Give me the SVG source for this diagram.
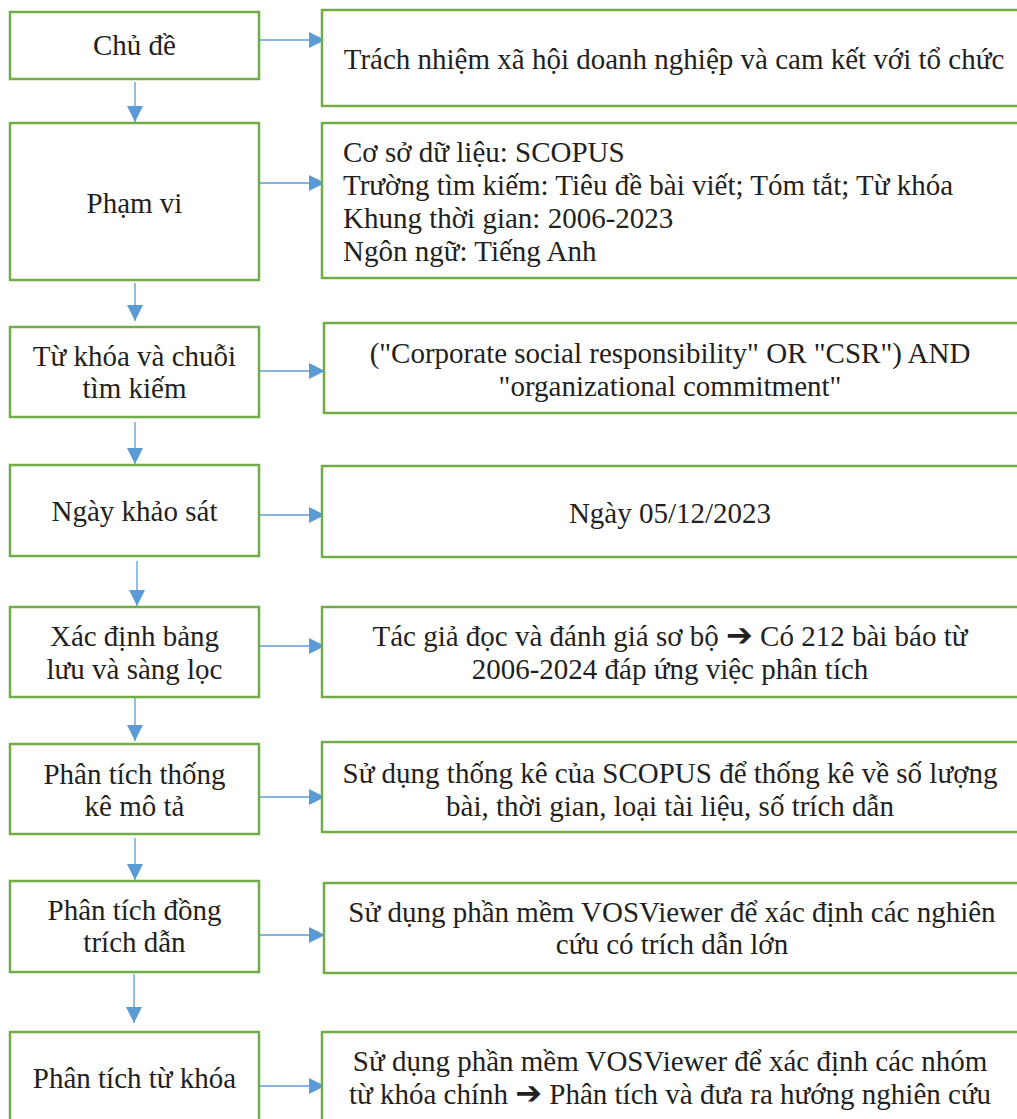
<svg xmlns="http://www.w3.org/2000/svg" width="1017" height="1119" viewBox="0 0 1017 1119">
<style>
.box{fill:#fff;stroke:#70ad47;stroke-width:2.5}
.t{font-family:"Liberation Serif","Times New Roman",serif;font-size:29px;fill:#231f20}
.c{text-anchor:middle}
.ar{font-family:"DejaVu Sans",sans-serif;font-size:32px}
.arr{stroke:#5b9bd5;stroke-width:1.3;fill:none;marker-end:url(#ah)}
</style>
<defs>
<marker id="ah" markerUnits="userSpaceOnUse" markerWidth="16" markerHeight="16" viewBox="0 0 14 14" refX="14" refY="7" orient="auto">
<path d="M0,0 L14,7 L0,14 Z" fill="#5b9bd5"/>
</marker>
</defs>
<rect width="1017" height="1119" fill="#fff"/>
<g id="connectors">
<line class="arr" x1="260" y1="40" x2="325" y2="40"/>
<line class="arr" x1="260" y1="183" x2="325" y2="183"/>
<line class="arr" x1="260" y1="371" x2="325" y2="371"/>
<line class="arr" x1="260" y1="515" x2="325" y2="515"/>
<line class="arr" x1="260" y1="646" x2="325" y2="646"/>
<line class="arr" x1="260" y1="797" x2="325" y2="797"/>
<line class="arr" x1="260" y1="935" x2="325" y2="935"/>
<line class="arr" x1="260" y1="1086" x2="325" y2="1086"/>
<line class="arr" x1="135" y1="82" x2="135" y2="122"/>
<line class="arr" x1="135" y1="283" x2="135" y2="321"/>
<line class="arr" x1="135" y1="422" x2="135" y2="464"/>
<line class="arr" x1="137" y1="561" x2="137" y2="606"/>
<line class="arr" x1="135" y1="698" x2="135" y2="741"/>
<line class="arr" x1="135" y1="838" x2="135" y2="880"/>
<line class="arr" x1="134" y1="974" x2="134" y2="1023"/>
</g>
<g id="n1"><rect class="box" x="10" y="12" width="249" height="67"/><text class="t c" x="134.5" y="55">Chủ đề</text></g>
<g id="n1r"><rect class="box" x="322" y="10" width="720" height="96"/><text class="t c" x="674" y="69">Trách nhiệm xã hội doanh nghiệp và cam kết với tổ chức</text></g>
<g id="n2"><rect class="box" x="10" y="123" width="249" height="157"/><text class="t c" x="134.5" y="213">Phạm vi</text></g>
<g id="n2r"><rect class="box" x="322" y="123" width="720" height="155"/>
<text class="t" x="343" y="162">Cơ sở dữ liệu: SCOPUS</text>
<text class="t" x="343" y="195">Trường tìm kiếm: Tiêu đề bài viết; Tóm tắt; Từ khóa</text>
<text class="t" x="343" y="228">Khung thời gian: 2006-2023</text>
<text class="t" x="343" y="261">Ngôn ngữ: Tiếng Anh</text></g>
<g id="n3"><rect class="box" x="10" y="327" width="249" height="90"/><text class="t c" x="134.5" y="366">Từ khóa và chuỗi</text><text class="t c" x="134.5" y="398">tìm kiếm</text></g>
<g id="n3r"><rect class="box" x="324" y="323" width="720" height="90"/><text class="t c" x="670" y="363">("Corporate social responsibility" OR "CSR") AND</text><text class="t c" x="670" y="396">"organizational commitment"</text></g>
<g id="n4"><rect class="box" x="10" y="465" width="249" height="91"/><text class="t c" x="134.5" y="521">Ngày khảo sát</text></g>
<g id="n4r"><rect class="box" x="322" y="466" width="720" height="91"/><text class="t c" x="670" y="523">Ngày 05/12/2023</text></g>
<g id="n5"><rect class="box" x="10" y="607" width="249" height="90"/><text class="t c" x="134.5" y="646">Xác định bảng</text><text class="t c" x="134.5" y="679">lưu và sàng lọc</text></g>
<g id="n5r"><rect class="box" x="322" y="607" width="720" height="90"/><text class="t c" x="670" y="646">Tác giả đọc và đánh giá sơ bộ <tspan class="ar">➔</tspan> Có 212 bài báo từ</text><text class="t c" x="670" y="679">2006-2024 đáp ứng việc phân tích</text></g>
<g id="n6"><rect class="box" x="10" y="744" width="249" height="90"/><text class="t c" x="134.5" y="784">Phân tích thống</text><text class="t c" x="134.5" y="816">kê mô tả</text></g>
<g id="n6r"><rect class="box" x="322" y="742" width="720" height="90"/><text class="t c" x="670" y="783">Sử dụng thống kê của SCOPUS để thống kê về số lượng</text><text class="t c" x="670" y="816">bài, thời gian, loại tài liệu, số trích dẫn</text></g>
<g id="n7"><rect class="box" x="10" y="881" width="249" height="91"/><text class="t c" x="134.5" y="920">Phân tích đồng</text><text class="t c" x="134.5" y="952">trích dẫn</text></g>
<g id="n7r"><rect class="box" x="324" y="883" width="720" height="90"/><text class="t c" x="672" y="922">Sử dụng phần mềm VOSViewer để xác định các nghiên</text><text class="t c" x="672" y="954">cứu có trích dẫn lớn</text></g>
<g id="n8"><rect class="box" x="10" y="1032" width="249" height="120"/><text class="t c" x="134.5" y="1088">Phân tích từ khóa</text></g>
<g id="n8r"><rect class="box" x="322" y="1032" width="720" height="120"/><text class="t c" x="670" y="1071">Sử dụng phần mềm VOSViewer để xác định các nhóm</text><text class="t c" x="670" y="1104">từ khóa chính <tspan class="ar">➔</tspan> Phân tích và đưa ra hướng nghiên cứu</text></g>
</svg>
